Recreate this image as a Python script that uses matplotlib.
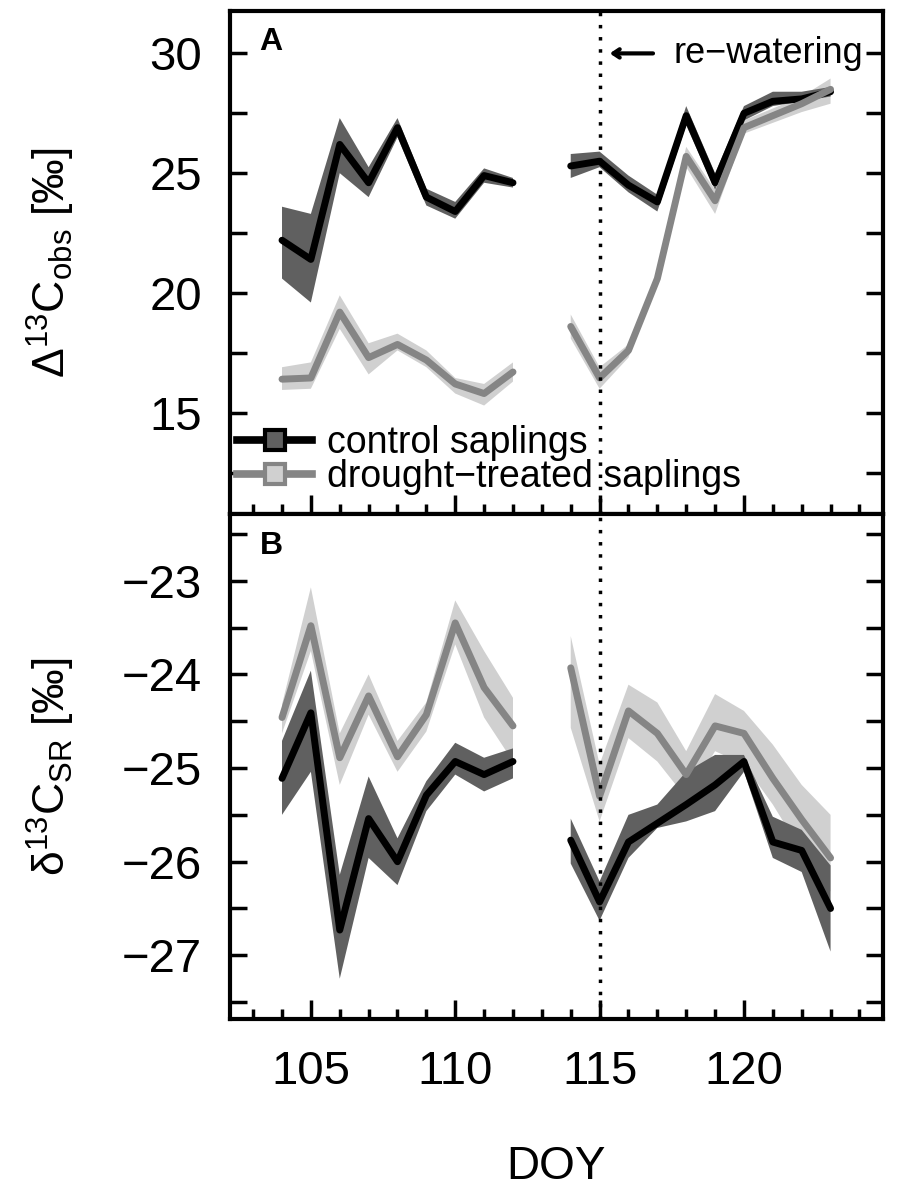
import numpy as np
import matplotlib
matplotlib.use("Agg")
import matplotlib.pyplot as plt
from matplotlib.lines import Line2D
from matplotlib.ticker import MultipleLocator

plt.rcParams['font.family'] = ['Liberation Sans', 'DejaVu Sans']
plt.rcParams['mathtext.fontset'] = 'custom'
plt.rcParams['mathtext.rm'] = 'Liberation Sans'
plt.rcParams['mathtext.it'] = 'Liberation Sans:italic'

# day of year, nan = no measurement on DOY 113
doy = [104, 105, 106, 107, 108, 109, 110, 111, 112, 113,
       114, 115, 116, 117, 118, 119, 120, 121, 122, 123]
nan = np.nan

# panel A: Delta13C obs
ctrl_a = [22.2, 21.4, 26.2, 24.6, 26.9, 24.0, 23.4, 24.9, 24.6, nan,
          25.3, 25.5, 24.5, 23.8, 27.4, 24.6, 27.5, 28.0, 28.1, 28.4]
ctrl_a_lo = [20.6, 19.6, 25.0, 24.0, 26.5, 23.65, 23.1, 24.6, 24.4, nan,
             24.8, 25.25, 24.2, 23.4, 27.0, 24.3, 27.2, 27.8, 28.0, 28.2]
ctrl_a_hi = [23.6, 23.3, 27.3, 25.25, 27.3, 24.35, 23.8, 25.2, 24.8, nan,
             25.8, 25.9, 24.9, 24.1, 27.8, 25.0, 27.8, 28.4, 28.4, 28.6]
dry_a = [16.4, 16.45, 19.2, 17.3, 17.85, 17.2, 16.2, 15.8, 16.7, nan,
         18.6, 16.45, 17.6, 20.6, 25.7, 23.85, 26.9, 27.4, 27.9, 28.5]
dry_a_lo = [15.95, 16.0, 18.5, 16.6, 17.6, 16.9, 15.8, 15.3, 16.3, nan,
            18.1, 16.0, 17.3, 20.35, 25.25, 23.3, 26.65, 27.1, 27.55, 27.9]
dry_a_hi = [16.9, 17.1, 19.9, 17.9, 18.3, 17.6, 16.45, 16.2, 17.1, nan,
            19.1, 16.9, 17.85, 20.9, 26.1, 24.3, 27.2, 27.7, 28.2, 28.95]

# panel B: delta13C SR
ctrl_b = [-25.11, -24.41, -26.73, -25.54, -26.0, -25.29, -24.93, -25.07, -24.93, nan,
          -25.77, -26.43, -25.79, -25.59, -25.39, -25.18, -24.93, -25.79, -25.88, -26.5]
ctrl_b_lo = [-25.5, -25.04, -27.25, -25.96, -26.25, -25.46, -25.07, -25.25, -25.11, nan,
             -26.02, -26.63, -25.96, -25.64, -25.57, -25.46, -25.04, -25.96, -26.11, -26.96]
ctrl_b_hi = [-24.71, -23.96, -26.14, -25.09, -25.75, -25.14, -24.73, -24.89, -24.79, nan,
             -25.54, -26.21, -25.5, -25.39, -25.04, -24.86, -24.86, -25.52, -25.66, -26.04]
dry_b = [-24.46, -23.48, -24.89, -24.23, -24.88, -24.43, -23.45, -24.14, -24.55, nan,
         -23.93, -25.3, -24.39, -24.63, -25.07, -24.55, -24.63, -25.11, -25.55, -25.96]
dry_b_lo = [-24.63, -23.75, -25.18, -24.43, -25.04, -24.61, -23.68, -24.46, -24.93, nan,
            -24.57, -25.57, -24.68, -24.93, -25.32, -24.82, -24.96, -25.39, -25.89, -26.32]
dry_b_hi = [-24.32, -23.07, -24.63, -24.0, -24.71, -24.3, -23.21, -23.75, -24.25, nan,
            -23.59, -24.96, -24.11, -24.3, -24.82, -24.21, -24.39, -24.75, -25.18, -25.5]

rewater_doy = 115

c_line = 'black'
c_band = '#606060'
d_line = '#858585'
d_band = '#d0d0d0'

fig = plt.figure(figsize=(9, 11.96), dpi=100)
axA = fig.add_axes([0.2556, 0.570, 0.725, 0.421])
axB = fig.add_axes([0.2556, 0.148, 0.725, 0.422])


def draw(ax, c, c_lo, c_hi, d, d_lo, d_hi):
    ax.fill_between(doy, d_lo, d_hi, color=d_band, lw=0)
    ax.fill_between(doy, c_lo, c_hi, color=c_band, lw=0)
    ax.plot(doy, c, color=c_line, lw=5, solid_capstyle='round', solid_joinstyle='round')
    ax.plot(doy, d, color=d_line, lw=5, solid_capstyle='round', solid_joinstyle='round')
    ax.axvline(rewater_doy, color='black', lw=2.5, ls=(0, (1, 2.5)))
    ax.set_xlim(102.2, 124.8)
    ax.xaxis.set_major_locator(MultipleLocator(5))
    ax.xaxis.set_minor_locator(MultipleLocator(1))
    ax.tick_params(axis='both', which='both', direction='in', width=2.5,
                   top=False, right=True, labelsize=34)
    ax.tick_params(axis='y', which='both', length=12, pad=20)
    ax.tick_params(axis='x', which='major', length=14, pad=22)
    ax.tick_params(axis='x', which='minor', length=7)
    for s in ax.spines.values():
        s.set_linewidth(3)


draw(axA, ctrl_a, ctrl_a_lo, ctrl_a_hi, dry_a, dry_a_lo, dry_a_hi)
draw(axB, ctrl_b, ctrl_b_lo, ctrl_b_hi, dry_b, dry_b_lo, dry_b_hi)

axA.set_ylim(10.76, 31.78)
axA.yaxis.set_major_locator(MultipleLocator(5))
axA.yaxis.set_minor_locator(MultipleLocator(2.5))
axA.tick_params(axis='x', which='both', labelbottom=False)

axB.set_ylim(-27.68, -22.29)
axB.yaxis.set_major_locator(MultipleLocator(1))
axB.yaxis.set_minor_locator(MultipleLocator(0.5))

axA.set_ylabel(r'$\Delta^{13}\mathrm{C}_{\mathrm{obs}}$ [‰]', fontsize=32)
axB.set_ylabel(r'$\mathrm{\delta}^{13}\mathrm{C}_{\mathrm{SR}}$ [‰]', fontsize=32)
axA.yaxis.set_label_coords(-0.235, 0.5)
axB.yaxis.set_label_coords(-0.235, 0.5)
axB.set_xlabel('DOY', fontsize=33)
axB.xaxis.set_label_coords(0.5, -0.25)

axA.text(0.063, 0.938, 'A', transform=axA.transAxes, fontsize=23,
         fontweight='bold', ha='center', va='center')
axB.text(0.063, 0.937, 'B', transform=axB.transAxes, fontsize=23,
         fontweight='bold', ha='center', va='center')

# re-watering marker: arrow pointing at the dotted line plus label
axA.annotate('', xy=(115.35, 30), xytext=(116.85, 30),
             arrowprops=dict(arrowstyle='->, head_length=0.45, head_width=0.3',
                             lw=3, color='black', shrinkA=0, shrinkB=0))
axA.text(117.55, 30, 're\u2212watering', fontsize=26, ha='left', va='center')

handles = [
    Line2D([], [], color=c_line, lw=5.5, marker='s', markersize=15,
           markerfacecolor=c_band, markeredgecolor=c_line, markeredgewidth=3),
    Line2D([], [], color=d_line, lw=5.5, marker='s', markersize=15,
           markerfacecolor=d_band, markeredgecolor=d_line, markeredgewidth=3),
]
axA.legend(handles, ['control saplings', 'drought\u2212treated saplings'],
           loc='lower left', bbox_to_anchor=(0.011, 0.038), frameon=False,
           fontsize=27, handlelength=2.0, handletextpad=0.4, labelspacing=-0.05,
           borderpad=0, borderaxespad=0)

fig.savefig('out.png', dpi=100)
